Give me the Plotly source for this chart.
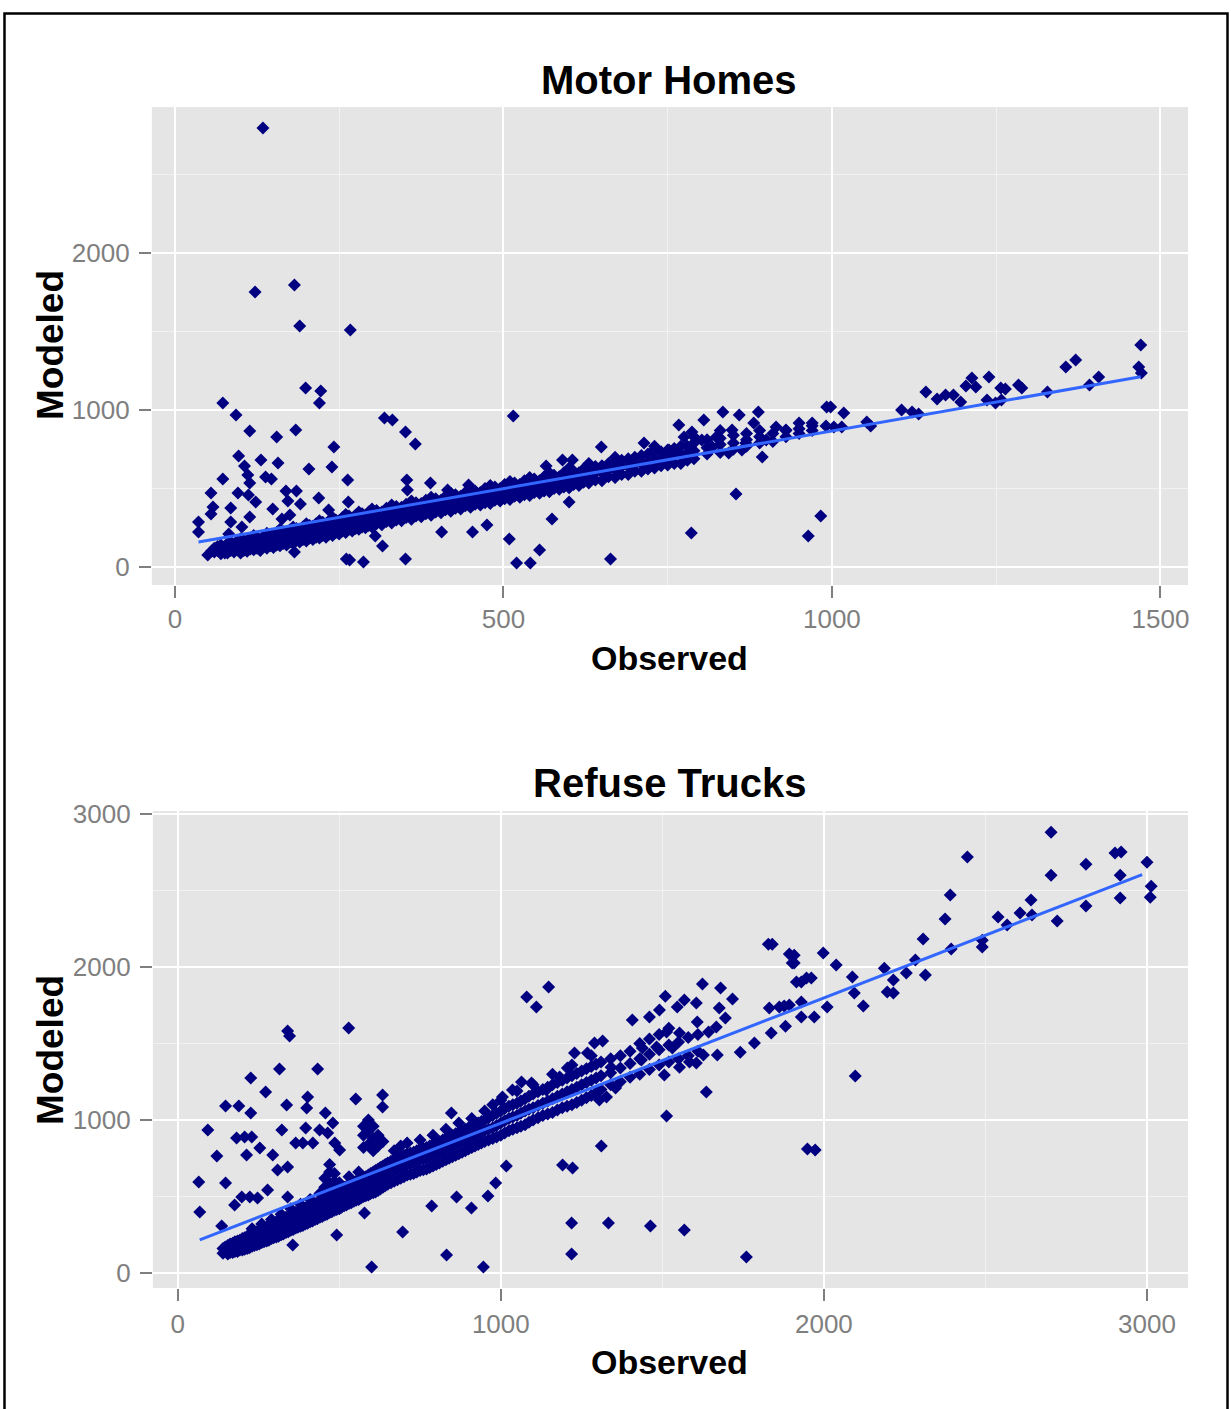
import plotly.graph_objects as go

# ---------------- Motor Homes (top panel) ----------------
mh_outliers = [
    (134, 2796), (122, 1752), (182, 1796), (190, 1535), (267, 1510),
    (73, 1045), (93, 968), (114, 866), (155, 828), (184, 873), (199, 1140), (222, 1121), (220, 1045),
    (242, 764), (239, 637), (263, 554), (264, 414),
    (97, 707), (106, 643), (111, 586), (114, 535), (112, 459), (123, 414), (131, 682), (157, 662),
    (138, 573), (147, 560), (204, 624), (73, 560), (55, 471), (96, 471), (169, 484), (185, 484),
    (172, 420), (191, 401), (219, 439), (234, 363), (58, 382), (55, 338), (85, 376), (85, 287),
    (36, 287), (36, 223), (82, 210), (114, 318), (102, 255), (149, 369), (163, 306), (175, 331),
    (50, 76), (56, 102), (76, 89), (182, 96), (261, 51),
    (319, 949), (331, 936), (351, 860), (366, 783), (515, 962), (353, 554), (354, 490), (389, 535),
    (415, 490), (447, 522), (305, 197), (316, 134), (287, 32), (266, 45), (351, 51), (406, 223),
    (453, 223), (475, 268), (509, 178), (520, 25), (541, 25), (555, 108), (574, 306), (600, 414),
    (565, 643), (590, 682), (605, 682),
    (663, 51), (786, 217), (854, 465), (964, 197), (983, 325), (894, 701), (649, 764), (714, 790),
    (767, 904), (805, 936), (834, 987), (859, 968), (888, 987), (881, 917), (915, 892), (950, 917),
    (970, 917), (992, 1019), (787, 860), (802, 809), (824, 828), (848, 873), (869, 790), (900, 809),
    (930, 873), (726, 732), (752, 745), (775, 828), (818, 764), (843, 726), (863, 745),
    (998, 1019), (991, 898), (1003, 892), (1018, 981), (1015, 892), (1053, 924), (1059, 898),
    (1106, 1000), (1122, 987), (1132, 975), (1143, 1115), (1160, 1070), (1173, 1096), (1185, 1096),
    (1196, 1051), (1204, 1153), (1213, 1204), (1219, 1146), (1239, 1210), (1236, 1064), (1249, 1045),
    (1258, 1064), (1257, 1140), (1264, 1134), (1284, 1159), (1289, 1140), (1328, 1115), (1356, 1274),
    (1371, 1318), (1392, 1159), (1406, 1210), (1470, 1414), (1467, 1274), (1471, 1236),
]

mh_band = [
    (60, [95, 120]), (70, [85, 110, 140]), (80, [90, 120, 150]), (90, [95, 125]),
    (100, [90, 115, 150, 180]), (110, [100, 130, 165]), (120, [110, 140, 175, 200]),
    (130, [105, 135, 170]), (140, [120, 150, 190, 215]), (150, [125, 160, 200]),
    (160, [135, 170, 210, 240]), (170, [140, 180, 220]), (180, [150, 190, 230, 255]),
    (190, [160, 200, 240]), (200, [165, 210, 250, 275]), (210, [175, 215, 260]),
    (220, [185, 225, 265, 295]), (230, [190, 235, 275]), (240, [200, 245, 285, 315]),
    (250, [210, 255, 295]), (260, [220, 260, 305, 335]), (270, [230, 270, 310]),
    (280, [240, 280, 320, 350]), (290, [250, 290, 330]), (300, [255, 300, 340, 370]),
    (315, [270, 310, 350]), (330, [280, 325, 365, 395]), (345, [295, 335, 380]),
    (360, [305, 350, 390, 420]), (375, [320, 360, 405]), (390, [330, 375, 415, 445]),
    (405, [345, 385, 425]), (420, [355, 395, 440, 470]), (435, [370, 410, 450]),
    (450, [380, 420, 460, 495]), (465, [395, 435, 475]), (480, [405, 445, 490, 520]),
    (495, [420, 460, 500]), (510, [430, 470, 510, 545]), (525, [445, 485, 525]),
    (540, [455, 495, 540, 570]), (555, [470, 510, 550]), (570, [480, 520, 560, 600]),
    (585, [495, 535, 575]), (600, [505, 545, 590, 630]), (615, [520, 560, 600]),
    (630, [535, 575, 615, 660]), (650, [550, 600, 645]), (670, [570, 620, 665, 700]),
    (690, [590, 640, 690]), (710, [610, 660, 710]), (730, [630, 680, 730, 770]),
    (750, [650, 700, 745]), (770, [660, 720, 770]), (790, [690, 740, 790, 830]),
    (810, [720, 760, 810]), (830, [730, 780, 820, 870]), (850, [750, 790, 840]),
    (870, [770, 810, 850]), (890, [790, 830, 870]), (910, [800, 850]),
    (930, [830, 870]), (950, [850, 880]), (970, [870, 900]),
]

mh_band_fill = [
    (65, [105, 130]), (75, [100, 125]), (85, [105, 135, 160]), (95, [110, 140, 165]),
    (105, [105, 135, 170]), (115, [115, 150, 185]), (125, [120, 155, 190]), (135, [130, 160, 195]),
    (145, [135, 170, 205]), (155, [140, 180, 220]), (165, [150, 190, 225]), (175, [160, 195, 235]),
    (185, [170, 205, 245]), (195, [175, 215, 255]), (205, [185, 225, 265]), (215, [190, 235, 275]),
    (225, [200, 245, 285]), (235, [210, 250, 295]), (245, [220, 260, 300]), (255, [230, 270, 315]),
    (265, [240, 280, 325]), (275, [245, 290, 330]), (285, [255, 300, 340]), (295, [265, 305, 350]),
    (307, [275, 320, 360]), (322, [290, 330, 375]), (337, [300, 345, 385]), (352, [315, 355, 400]),
    (367, [325, 370, 410]), (382, [340, 380, 425]), (397, [350, 395, 435]), (412, [365, 405, 450]),
    (427, [375, 420, 460]), (442, [390, 430, 475]), (457, [400, 445, 485]), (472, [410, 455, 500]),
    (487, [425, 470, 510]), (502, [435, 480, 525]), (517, [450, 495, 535]), (532, [460, 505, 550]),
    (547, [475, 520, 560]), (562, [485, 530, 575]), (577, [500, 545, 585]), (592, [510, 555, 600]),
    (607, [525, 570, 610]), (622, [540, 585, 625]), (640, [555, 600, 640]), (660, [575, 620, 660]),
    (680, [590, 640, 680]), (700, [610, 655, 700]), (720, [625, 670, 720]), (740, [645, 690, 735]),
    (760, [660, 705, 755]), (780, [680, 725, 770]),
]

mh_fit_x = [36, 1470]
mh_fit_y = [159, 1212]

# ---------------- Refuse Trucks (bottom panel) ----------------
rt_outliers = [
    (65, 595), (68, 399), (93, 935), (121, 765), (148, 1092), (148, 588), (136, 307), (176, 444),
    (189, 1092), (182, 882), (207, 889), (229, 889), (213, 771), (226, 1275), (226, 1046),
    (198, 497), (223, 497), (247, 490), (254, 817), (272, 1183), (278, 542), (294, 771), (309, 673),
    (315, 1333), (340, 1582), (346, 1549), (337, 1098), (322, 935), (340, 693), (340, 497),
    (356, 183), (365, 850), (387, 850), (418, 850), (396, 948), (399, 1078), (402, 1150),
    (433, 1333), (439, 935), (457, 1046), (464, 915), (480, 980), (486, 850), (501, 804),
    (529, 1601), (551, 1137), (634, 1163), (634, 1085), (492, 248), (578, 392), (600, 39),
    (696, 268), (786, 438), (832, 118), (863, 497), (847, 1046),
    (1080, 1804), (1110, 1739), (1148, 1869), (1017, 699), (984, 588), (960, 503), (909, 425),
    (946, 39), (1191, 706), (1222, 686), (1311, 830), (1219, 327), (1219, 124), (1333, 327),
    (1463, 307), (1568, 281), (1760, 105), (1513, 1026), (1636, 1183), (1949, 810),
    (1828, 2150), (1893, 2085), (1902, 2026), (1915, 1902), (1946, 1928), (1831, 1732),
    (1862, 1739), (1877, 1745), (1893, 1752), (1930, 1771), (1930, 1673), (1837, 1569),
    (1881, 1614), (1741, 1444), (1785, 1503), (1624, 1889), (1680, 1863), (1717, 1791),
    (1605, 1765), (1676, 1732), (1695, 1667), (1608, 1641), (1643, 1575), (1667, 1608),
    (1670, 1425), (1627, 1425), (1509, 1810), (1546, 1739), (1568, 1784), (1491, 1719),
    (1407, 1654), (1460, 1673), (1513, 1575), (1553, 1569), (1482, 1477), (1531, 1471),
    (1438, 1471), (1435, 1392), (1584, 1379), (1605, 1373), (1553, 1346), (1506, 1294),
    (1315, 1516), (1290, 1503), (1228, 1438), (1206, 1340), (1268, 1438), (1341, 1346),
    (1327, 1150), (1305, 1131), (1355, 1209), (1182, 1281), (1141, 1196), (1036, 1196),
    (1005, 1150), (1064, 1248), (1095, 1242),
    (2703, 2882), (2444, 2719), (2391, 2471), (2375, 2314), (2307, 2183), (2394, 2118),
    (2314, 1948), (2283, 2046), (2255, 1961), (2215, 1915), (2187, 1993), (2196, 1837),
    (2215, 1830), (2490, 2176), (2490, 2131), (2539, 2327), (2567, 2275), (2607, 2353),
    (2641, 2438), (2644, 2340), (2722, 2301), (2703, 2601), (2811, 2673), (2811, 2399),
    (2901, 2745), (2920, 2752), (2917, 2601), (2917, 2451), (3000, 2686), (3013, 2529),
    (3010, 2457), (2097, 1288), (1973, 804), (1840, 2150), (1998, 2092), (2038, 2013),
    (2088, 1935), (2094, 1830), (2122, 1745), (2010, 1739), (1970, 1673), (1930, 1902),
    (1961, 1928), (1908, 2078), (1908, 2026),
]

rt_band = [
    (140, [130, 160]), (155, [125, 150, 180]), (170, [135, 165, 195]), (185, [140, 175, 210]),
    (200, [150, 185, 225]), (215, [160, 200, 240]), (230, [175, 215, 255, 290]),
    (245, [185, 230, 270]), (260, [200, 245, 290, 320]), (275, [210, 255, 300]),
    (290, [225, 270, 320, 350]), (305, [235, 285, 335]), (320, [250, 300, 350, 385]),
    (335, [265, 315, 365]), (350, [280, 330, 380, 420]), (365, [295, 345, 395]),
    (380, [305, 360, 410, 450]), (395, [320, 375, 425]), (410, [335, 390, 440, 480]),
    (425, [350, 400, 455]), (440, [365, 420, 470, 520]), (455, [380, 430, 490, 560, 620]),
    (470, [395, 450, 510, 580, 660, 710]), (485, [410, 465, 525, 600, 650]),
    (500, [420, 480, 540, 590]), (515, [440, 500, 560]), (530, [455, 510, 575, 630]),
    (545, [470, 530, 590]), (560, [480, 545, 605, 660]),
    (575, [500, 560, 620, 820, 900, 960]), (590, [510, 575, 640, 840, 930, 1000]),
    (605, [525, 590, 660, 800, 880, 960]), (620, [540, 610, 680, 830, 900]),
    (635, [560, 630, 700, 860]), (650, [580, 650, 720]), (670, [600, 670, 740, 800]),
    (690, [620, 690, 760, 830]), (710, [640, 710, 780, 850]), (730, [650, 720, 790]),
    (750, [670, 740, 810, 870]), (770, [680, 750, 820]), (790, [700, 770, 840, 900]),
    (810, [720, 790, 860]), (830, [740, 810, 880, 940]), (850, [760, 830, 900]),
    (870, [780, 850, 920, 980]), (890, [800, 870, 940]), (910, [820, 890, 960, 1010]),
    (930, [840, 910, 980]), (950, [860, 930, 1000, 1060]), (975, [880, 950, 1030, 1100]),
    (1000, [900, 980, 1060, 1130]), (1025, [930, 1010, 1090]), (1050, [950, 1030, 1110, 1190]),
    (1075, [970, 1060, 1140]), (1100, [1000, 1080, 1170, 1230]), (1130, [1030, 1110, 1200]),
    (1160, [1050, 1140, 1230, 1300]), (1190, [1080, 1170, 1260]), (1220, [1100, 1200, 1290, 1360]),
    (1250, [1130, 1230, 1320]), (1280, [1160, 1260, 1350, 1420]), (1310, [1200, 1290, 1380]),
    (1340, [1230, 1310, 1400]), (1370, [1250, 1340, 1420]), (1400, [1280, 1370, 1450]),
    (1430, [1300, 1400, 1500]), (1460, [1330, 1430, 1530]), (1490, [1360, 1460, 1560]),
    (1520, [1380, 1490, 1600]), (1550, [1400, 1510]), (1580, [1420, 1540]), (1610, [1450, 1560]),
]

rt_band_fill = [
    (147, [140, 170]), (162, [135, 160, 190]), (177, [140, 170, 205]), (192, [150, 180, 215]),
    (207, [155, 195, 230]), (222, [165, 205, 245]), (237, [180, 220, 265]), (252, [190, 235, 280]),
    (267, [205, 250, 295]), (282, [215, 265, 310]), (297, [230, 275, 325]), (312, [240, 290, 340]),
    (327, [255, 305, 355]), (342, [270, 320, 370]), (357, [285, 335, 390]), (372, [300, 350, 400]),
    (387, [310, 365, 420]), (402, [325, 380, 435]), (417, [340, 395, 445]), (432, [355, 410, 460]),
    (447, [370, 425, 480]), (462, [385, 440, 500]), (477, [400, 455, 515]), (492, [415, 470, 535]),
    (507, [430, 490, 550]), (522, [445, 505, 565]), (537, [460, 520, 580]), (552, [475, 535, 600]),
    (567, [490, 550, 615]), (582, [505, 565, 630]), (597, [520, 585, 650]), (612, [530, 600, 670]),
    (627, [550, 620, 690]), (642, [570, 640, 710]), (660, [590, 660, 730]), (680, [610, 680, 750]),
    (700, [630, 700, 770]), (720, [645, 715, 785]), (740, [660, 730, 800]), (760, [675, 745, 815]),
    (780, [690, 760, 830]), (800, [710, 780, 850]), (820, [730, 800, 870]), (840, [750, 820, 890]),
    (860, [770, 840, 910]), (880, [790, 860, 930]), (900, [810, 880, 950]), (920, [830, 900, 970]),
    (940, [850, 920, 990]), (962, [870, 940, 1015]), (987, [890, 965, 1045]), (1012, [915, 995, 1075]),
    (1037, [940, 1020, 1100]), (1062, [960, 1045, 1125]), (1087, [985, 1070, 1155]),
    (1115, [1015, 1095, 1185]), (1145, [1040, 1125, 1215]), (1175, [1065, 1155, 1245]),
    (1205, [1090, 1185, 1275]), (1235, [1115, 1215, 1305]), (1265, [1145, 1245, 1335]),
    (1295, [1180, 1275, 1365]),
]

rt_fit_x = [68, 2985]
rt_fit_y = [216, 2605]

panel_titles = ["Motor Homes", "Refuse Trucks"]
x_title = "Observed"
y_title = "Modeled"


def expand(outliers, *bands):
    xs = [p[0] for p in outliers]
    ys = [p[1] for p in outliers]
    for band in bands:
        for bx, bys in band:
            for by in bys:
                xs.append(bx)
                ys.append(by)
    return xs, ys


mh_x, mh_y = expand(mh_outliers, mh_band, mh_band_fill)
rt_x, rt_y = expand(rt_outliers, rt_band, rt_band_fill)

W, H = 1231, 1409
POINT = "#000080"
LINE = "#3366FF"
PANEL = "#E5E5E5"
TICK = "#7F7F7F"
FONT = "Liberation Sans, Arial, sans-serif"


def py(y_target):
    """paper fraction for a target pixel row (compensates the capture's vertical offset/scale)"""
    css = (y_target - 11.9) / 0.99155
    return 1 - css / H


fig = go.Figure()
marker = dict(symbol="diamond", size=10, color=POINT, line=dict(width=0))
fig.add_trace(go.Scatter(x=mh_x, y=mh_y, mode="markers", marker=marker, xaxis="x", yaxis="y", showlegend=False))
fig.add_trace(go.Scatter(x=mh_fit_x, y=mh_fit_y, mode="lines", line=dict(color=LINE, width=3),
                         xaxis="x", yaxis="y", showlegend=False))
fig.add_trace(go.Scatter(x=rt_x, y=rt_y, mode="markers", marker=marker, xaxis="x2", yaxis="y2", showlegend=False))
fig.add_trace(go.Scatter(x=rt_fit_x, y=rt_fit_y, mode="lines", line=dict(color=LINE, width=3),
                         xaxis="x2", yaxis="y2", showlegend=False))


def axis(domain, rng, dtick, minor, anchor, standoff):
    return dict(
        domain=domain, range=rng, dtick=dtick, tick0=0, anchor=anchor,
        showgrid=True, gridcolor="white", gridwidth=2.4, zeroline=False, showline=False,
        ticks="outside", ticklen=12, tickwidth=2, tickcolor=TICK, ticklabelstandoff=standoff,
        tickfont=dict(family=FONT, size=26, color=TICK),
        minor=dict(dtick=minor, tick0=0, showgrid=True, gridcolor="#F2F2F2", gridwidth=1.1, ticks=""),
        fixedrange=True,
    )


fig.update_layout(
    width=W, height=H, autosize=False,
    margin=dict(l=0, r=0, t=0, b=0),
    paper_bgcolor="white", plot_bgcolor=PANEL,
    xaxis=axis([152 / W, 1189 / W], [-35, 1542], 500, 250, "y", -1),
    yaxis=axis([py(585), py(107)], [-115, 2930], 1000, 500, "x", 4),
    xaxis2=axis([153 / W, 1189 / W], [-77, 3127], 1000, 500, "y2", 1),
    yaxis2=axis([py(1288), py(811)], [-98, 3020], 1000, 500, "x2", 4),
    font=dict(family=FONT),
)

annots = [
    dict(text="<b>%s</b>" % panel_titles[0], x=670 / W, y=py(80), size=40),
    dict(text="<b>%s</b>" % panel_titles[1], x=670 / W, y=py(783), size=40),
    dict(text="<b>%s</b>" % x_title, x=670 / W, y=py(658), size=34),
    dict(text="<b>%s</b>" % x_title, x=670 / W, y=py(1362), size=34),
]
for a in annots:
    fig.add_annotation(text=a["text"], x=a["x"], y=a["y"], xref="paper", yref="paper",
                       showarrow=False, xanchor="center", yanchor="middle",
                       font=dict(family=FONT, size=a["size"], color="black"))
for yc in [345, 1050]:
    fig.add_annotation(text="<b>%s</b>" % y_title, x=50 / W, y=py(yc), xref="paper", yref="paper",
                       showarrow=False, xanchor="center", yanchor="middle", textangle=-90,
                       font=dict(family=FONT, size=37, color="black"))

fig.add_shape(type="rect", xref="paper", yref="paper", x0=4.5 / W, x1=1228.5 / W, y0=-0.02, y1=1 - 1.5 / H,
              line=dict(color="black", width=2.5), fillcolor="rgba(0,0,0,0)", layer="above")

post = (
    "document.body.style.margin='0';"
    "var gd=document.getElementById('{plot_id}');"
    "gd.style.position='absolute';gd.style.left='0px';gd.style.top='0px';"
)
fig.write_html("out.html", post_script=post, config={"displayModeBar": False})
